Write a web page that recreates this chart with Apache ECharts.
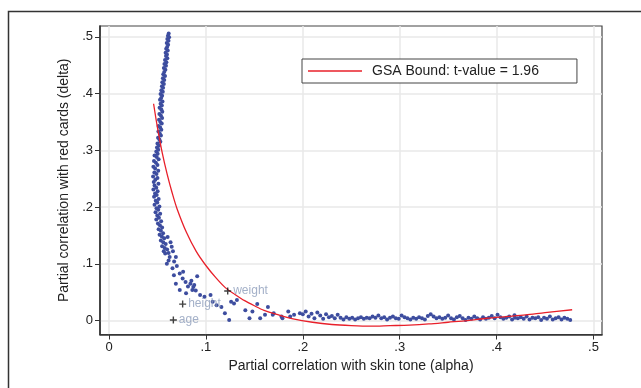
<!DOCTYPE html>
<html>
<head>
<meta charset="utf-8">
<script src="https://cdn.jsdelivr.net/npm/echarts@6/dist/echarts.min.js"></script>
<style>
  html, body { margin: 0; padding: 0; background: #ffffff; }
  #chart { width: 641px; height: 388px; }
</style>
</head>
<body>
<div id="chart"></div>
<script>
// tick values on both axes
const tickValues = [0, 0.1, 0.2, 0.3, 0.4, 0.5]

// GSA bound curve
const boundX = [0.046, 0.050, 0.055, 0.060, 0.065, 0.070, 0.080, 0.090, 0.100, 0.110, 0.120, 0.130, 0.140, 0.150, 0.160, 0.175, 0.190, 0.210, 0.230, 0.250, 0.270, 0.290, 0.310, 0.330, 0.350, 0.370, 0.390, 0.410, 0.430, 0.450, 0.478]
const boundY = [0.382, 0.340, 0.295, 0.258, 0.226, 0.198, 0.155, 0.122, 0.097, 0.076, 0.058, 0.046, 0.035, 0.026, 0.018, 0.010, 0.003, -0.003, -0.007, -0.009, -0.010, -0.009, -0.008, -0.006, -0.003, 0.000, 0.004, 0.007, 0.010, 0.014, 0.019]

// simulated points: steep band on the left
const bandPoints = [
  [0.0616, 0.506], [0.0608, 0.502], [0.0620, 0.499], [0.0602, 0.496], [0.0614, 0.493], [0.0596, 0.489], [0.0610, 0.486],
  [0.0600, 0.482], [0.0590, 0.479], [0.0606, 0.476], [0.0584, 0.472], [0.0598, 0.469], [0.0588, 0.466], [0.0602, 0.462],
  [0.0578, 0.459], [0.0592, 0.455], [0.0572, 0.452], [0.0588, 0.449], [0.0566, 0.445], [0.0582, 0.442], [0.0570, 0.438],
  [0.0560, 0.434], [0.0578, 0.431], [0.0556, 0.427], [0.0570, 0.424], [0.0550, 0.420], [0.0566, 0.417], [0.0546, 0.413],
  [0.0558, 0.410], [0.0540, 0.406], [0.0555, 0.403], [0.0532, 0.399], [0.0548, 0.396], [0.0538, 0.392], [0.0526, 0.389],
  [0.0552, 0.386], [0.0532, 0.382], [0.0545, 0.379], [0.0522, 0.375], [0.0540, 0.372], [0.0550, 0.368], [0.0520, 0.364],
  [0.0536, 0.361], [0.0548, 0.357], [0.0516, 0.354], [0.0530, 0.350], [0.0544, 0.347], [0.0512, 0.343], [0.0528, 0.340],
  [0.0540, 0.336], [0.0510, 0.333], [0.0525, 0.329], [0.0536, 0.326], [0.0506, 0.322], [0.0520, 0.319], [0.0530, 0.315],
  [0.0500, 0.312], [0.0515, 0.308], [0.0495, 0.305], [0.0508, 0.301], [0.0488, 0.298], [0.0502, 0.294], [0.0470, 0.291],
  [0.0492, 0.288], [0.0512, 0.284], [0.0464, 0.281], [0.0484, 0.278], [0.0500, 0.274], [0.0458, 0.271], [0.0476, 0.268],
  [0.0508, 0.264], [0.0468, 0.261], [0.0490, 0.258], [0.0455, 0.254], [0.0500, 0.251], [0.0478, 0.248], [0.0462, 0.244],
  [0.0510, 0.241], [0.0470, 0.238], [0.0488, 0.234], [0.0458, 0.231], [0.0502, 0.228], [0.0475, 0.224], [0.0492, 0.221],
  [0.0465, 0.218], [0.0512, 0.214], [0.0482, 0.211], [0.0498, 0.208], [0.0470, 0.204], [0.0520, 0.201], [0.0490, 0.198],
  [0.0508, 0.195], [0.0480, 0.191], [0.0528, 0.188], [0.0498, 0.185], [0.0515, 0.181], [0.0488, 0.178], [0.0538, 0.175],
  [0.0505, 0.171], [0.0525, 0.168], [0.0548, 0.164], [0.0512, 0.161], [0.0535, 0.158], [0.0558, 0.154], [0.0522, 0.151],
  [0.0545, 0.148], [0.0570, 0.145], [0.0535, 0.141], [0.0560, 0.138], [0.0585, 0.135], [0.0548, 0.131], [0.0575, 0.128],
  [0.0600, 0.125], [0.0565, 0.122], [0.0615, 0.119]
]

// points fanning out toward the bottom
const spreadPoints = [
  [0.0580, 0.118], [0.0626, 0.112], [0.0597, 0.100], [0.0690, 0.112], [0.0647, 0.130], [0.0605, 0.147], [0.0635, 0.138],
  [0.0660, 0.122], [0.0615, 0.106], [0.0672, 0.104], [0.0700, 0.096], [0.0655, 0.092], [0.0670, 0.080], [0.0690, 0.065],
  [0.0730, 0.054], [0.0795, 0.048], [0.0860, 0.054], [0.0910, 0.078], [0.0815, 0.060], [0.0880, 0.0625], [0.0760, 0.074],
  [0.0730, 0.083], [0.0765, 0.086], [0.0790, 0.068], [0.0840, 0.065], [0.0870, 0.059], [0.0895, 0.053], [0.0850, 0.070],
  [0.0940, 0.045], [0.0985, 0.042], [0.1048, 0.045], [0.1070, 0.033], [0.1110, 0.027], [0.1160, 0.024], [0.1196, 0.013],
  [0.1240, 0.001], [0.1260, 0.033], [0.1320, 0.036], [0.1290, 0.030], [0.1407, 0.018], [0.1450, 0.004], [0.1530, 0.029],
  [0.1560, 0.004], [0.1610, 0.010], [0.1640, 0.024], [0.1690, 0.010], [0.1700, 0.013], [0.1790, 0.004], [0.1780, 0.007],
  [0.1850, 0.016], [0.1870, 0.007], [0.1910, 0.010], [0.1970, 0.013], [0.1480, 0.016]
]

// flat tail along zero
const tailPoints = [
  [0.200, 0.011], [0.203, 0.016], [0.206, 0.007], [0.209, 0.012], [0.212, 0.004], [0.215, 0.014], [0.218, 0.009],
  [0.221, 0.003], [0.224, 0.011], [0.227, 0.006], [0.230, 0.008], [0.233, 0.004], [0.236, 0.010], [0.239, 0.005],
  [0.242, 0.002], [0.245, 0.006], [0.248, 0.003], [0.251, 0.005], [0.254, 0.002], [0.257, 0.004], [0.260, 0.006],
  [0.263, 0.003], [0.266, 0.005], [0.269, 0.004], [0.272, 0.007], [0.275, 0.005], [0.278, 0.009], [0.281, 0.004],
  [0.284, 0.006], [0.287, 0.002], [0.290, 0.005], [0.293, 0.007], [0.296, 0.004], [0.299, 0.003], [0.302, 0.009],
  [0.305, 0.006], [0.308, 0.004], [0.311, 0.002], [0.314, 0.005], [0.317, 0.003], [0.320, 0.006], [0.323, 0.004],
  [0.326, 0.002], [0.329, 0.008], [0.332, 0.011], [0.335, 0.007], [0.338, 0.004], [0.341, 0.006], [0.344, 0.003],
  [0.347, 0.005], [0.350, 0.009], [0.353, 0.004], [0.356, 0.002], [0.359, 0.006], [0.362, 0.008], [0.365, 0.004],
  [0.368, 0.001], [0.371, 0.005], [0.374, 0.003], [0.377, 0.007], [0.380, 0.004], [0.383, 0.002], [0.386, 0.006],
  [0.389, 0.003], [0.392, 0.005], [0.395, 0.008], [0.398, 0.004], [0.401, 0.010], [0.404, 0.006], [0.407, 0.003],
  [0.410, 0.005], [0.413, 0.007], [0.416, 0.002], [0.419, 0.005], [0.422, 0.004], [0.425, 0.006], [0.428, 0.003],
  [0.431, 0.007], [0.434, 0.002], [0.437, 0.005], [0.440, 0.004], [0.443, 0.006], [0.446, 0.001], [0.449, 0.005],
  [0.452, 0.003], [0.455, 0.007], [0.458, 0.002], [0.461, 0.004], [0.464, 0.006], [0.467, 0.002], [0.470, 0.005],
  [0.473, 0.003], [0.476, 0.001], [0.4185, 0.0095]
]

// observed covariates
const covNames = ['age', 'height', 'weight']
const covX = [0.0664, 0.076, 0.1225]
const covY = [0.001, 0.029, 0.052]

const fmt = v => (v === 0 ? '0' : String(+v.toFixed(1)).replace('0.', '.'))
const labelFont = { fontFamily: 'Liberation Sans, Arial, sans-serif', color: '#222' }

const chart = echarts.init(document.getElementById('chart'))

const option = {
  backgroundColor: '#ffffff',
  animation: false,
  graphic: [
    {
      type: 'rect',
      shape: { x: 8.5, y: 11.5, width: 700, height: 500 },
      style: { fill: 'none', stroke: '#333', lineWidth: 1.5 },
      silent: true
    }
  ],
  grid: {
    left: 100,
    top: 26,
    right: 39,
    bottom: 53.5,
    show: true,
    borderColor: '#444',
    borderWidth: 1.2,
    backgroundColor: '#ffffff'
  },
  legend: {
    left: 302,
    top: 59,
    data: ['GSA Bound: t-value = 1.96'],
    icon: 'rect',
    itemWidth: 54,
    itemHeight: 1.5,
    itemGap: 10,
    padding: [5, 38, 5, 6],
    borderColor: '#444',
    borderWidth: 1,
    backgroundColor: '#ffffff',
    textStyle: { ...labelFont, fontSize: 14, padding: [0, 0, 0, 5] }
  },
  xAxis: {
    type: 'value',
    min: -0.0093,
    max: 0.5088,
    name: 'Partial correlation with skin tone (alpha)',
    nameLocation: 'middle',
    nameGap: 25,
    nameTextStyle: { ...labelFont, fontSize: 14 },
    axisLine: { show: true, onZero: false, lineStyle: { color: '#333', width: 1.6 } },
    axisTick: { show: true, length: 5, customValues: tickValues, lineStyle: { color: '#333' } },
    axisLabel: { customValues: tickValues, formatter: fmt, ...labelFont, fontSize: 13, margin: 6 },
    splitLine: { show: true, lineStyle: { color: '#e8e8e8', width: 1.5 } }
  },
  yAxis: {
    type: 'value',
    min: -0.0246,
    max: 0.519,
    name: 'Partial correlation with red cards (delta)',
    nameLocation: 'middle',
    nameGap: 29,
    nameTextStyle: { ...labelFont, fontSize: 14 },
    axisLine: { show: true, onZero: false, lineStyle: { color: '#333', width: 1.6 } },
    axisTick: { show: true, length: 5, customValues: tickValues, lineStyle: { color: '#333' } },
    axisLabel: { customValues: tickValues, formatter: fmt, ...labelFont, fontSize: 13, margin: 7 },
    splitLine: { show: true, lineStyle: { color: '#e8e8e8', width: 1.5 } }
  },
  series: [
    {
      name: 'points',
      type: 'scatter',
      symbolSize: 4,
      itemStyle: { color: '#3d4d9f', opacity: 1 },
      data: [...bandPoints, ...spreadPoints, ...tailPoints],
      z: 3
    },
    {
      name: 'GSA Bound: t-value = 1.96',
      type: 'line',
      symbol: 'none',
      smooth: 0.3,
      lineStyle: { color: '#e8202a', width: 1.3 },
      itemStyle: { color: '#e8202a' },
      data: boundX.map((x, i) => [x, boundY[i]]),
      z: 4
    },
    {
      name: 'covariates',
      type: 'scatter',
      symbol: 'path://M4,0H6V4H10V6H6V10H4V6H0V4H4Z',
      symbolSize: 7,
      itemStyle: { color: '#111' },
      label: {
        show: true,
        position: 'right',
        distance: 2,
        formatter: p => covNames[p.dataIndex],
        fontFamily: 'Liberation Sans, Arial, sans-serif',
        fontSize: 12,
        color: '#8c9cba'
      },
      data: covX.map((x, i) => [x, covY[i]]),
      z: 5
    }
  ]
}

chart.setOption(option)
</script>
</body>
</html>
